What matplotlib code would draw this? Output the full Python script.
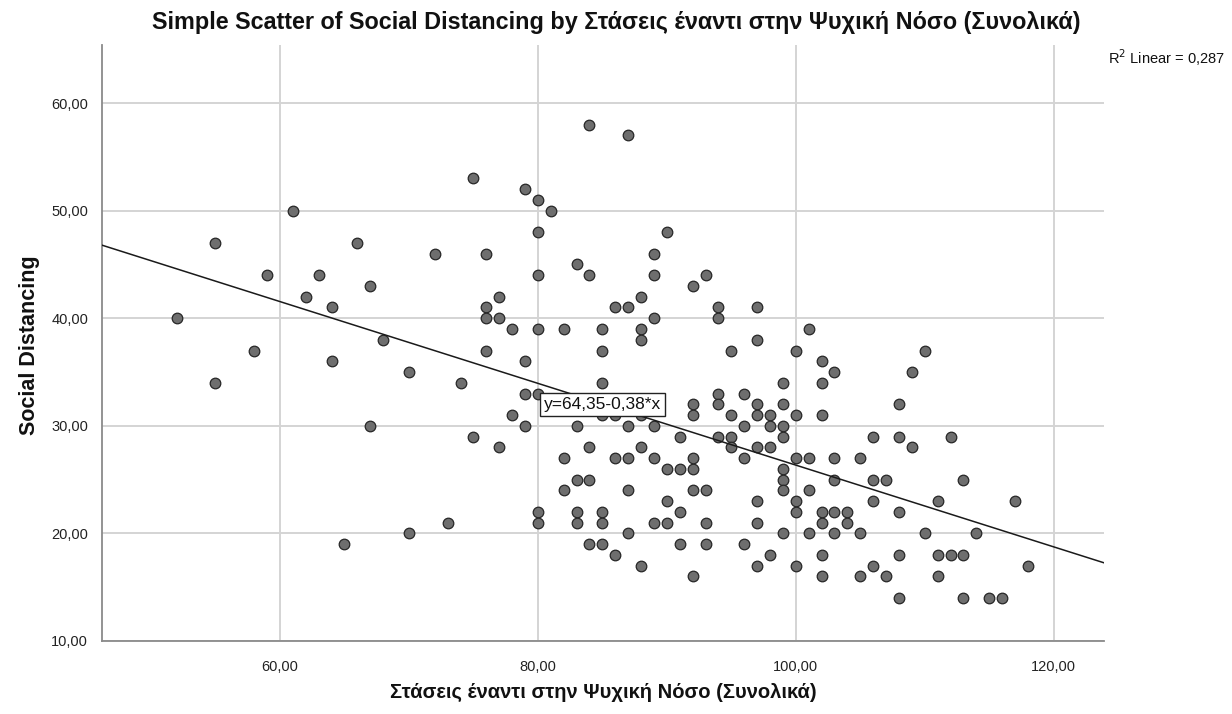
import matplotlib
matplotlib.use("Agg")
import matplotlib.pyplot as plt
import numpy as np

plt.rcParams['font.family'] = ['Liberation Sans', 'DejaVu Sans']

# Attitudes toward mental illness (total score)
attitude = [
    61, 55, 66, 72, 59, 63, 67, 62, 64, 52, 68, 58, 64, 70, 55, 67, 65, 70, 73,
    84, 87, 75, 79, 80, 81, 80, 90, 76, 89, 83, 84, 80, 89, 93, 92, 77, 88, 76,
    86, 87, 94, 97, 76, 77, 89, 94, 78, 80, 82, 85, 88, 88, 97, 76, 85, 95,
    79, 74, 85, 79, 80, 78, 79, 75, 77, 83, 85, 86, 88, 87, 89, 91, 92, 92,
    84, 88, 82, 86, 87, 89, 90, 91, 92, 92, 83, 84,
    82, 87, 92, 90, 80, 80, 83, 83, 85, 85, 91, 89, 90, 87, 84, 85, 91, 86,
    88, 92,
    100, 102, 103, 110, 109, 99, 102, 94, 94, 96, 97, 99, 108, 95, 97, 98, 100,
    102, 96, 98, 99, 94, 95, 99, 95, 97, 98, 96, 100, 101, 103, 105, 99, 99,
    103, 106, 107, 106, 108, 109, 112,
    101,
    99, 93, 101, 106, 111, 97, 100, 100, 102, 103, 104, 108, 93, 97, 102, 104,
    99, 101, 103, 105, 110, 93, 96, 98, 102, 108, 97, 100, 106, 102, 105, 107,
    108,
    113, 117, 114, 111, 112, 113, 118, 111, 113, 115, 116,
]

# Social distancing score
social = [
    50, 47, 47, 46, 44, 44, 43, 42, 41, 40, 38, 37, 36, 35, 34, 30, 19, 20, 21,
    58, 57, 53, 52, 51, 50, 48, 48, 46, 46, 45, 44, 44, 44, 44, 43, 42, 42, 41,
    41, 41, 41, 41, 40, 40, 40, 40, 39, 39, 39, 39, 39, 38, 38, 37, 37, 37,
    36, 34, 34, 33, 33, 31, 30, 29, 28, 30, 31, 31, 31, 30, 30, 29, 32, 31,
    28, 28, 27, 27, 27, 27, 26, 26, 26, 27, 25, 25,
    24, 24, 24, 23, 22, 21, 22, 21, 22, 21, 22, 21, 21, 20, 19, 19, 19, 18,
    17, 16,
    37, 36, 35, 37, 35, 34, 34, 33, 32, 33, 32, 32, 32, 31, 31, 31, 31,
    31, 30, 30, 30, 29, 29, 29, 28, 28, 28, 27, 27, 27, 27, 27, 26, 25,
    25, 25, 25, 29, 29, 28, 29,
    39,
    24, 24, 24, 23, 23, 23, 23, 22, 22, 22, 22, 22, 21, 21, 21, 21,
    20, 20, 20, 20, 20, 19, 19, 18, 18, 18, 17, 17, 17, 16, 16, 16,
    14,
    25, 23, 20, 18, 18, 18, 17, 16, 14, 14, 14,
]

x_ticks = [60, 80, 100, 120]
y_ticks = [10, 20, 30, 40, 50, 60]
intercept = 64.35
slope = -0.38
r_squared = 0.287

def comma(v, nd=2):
    return f"{v:.{nd}f}".replace(".", ",")

fig = plt.figure(figsize=(12.32, 7.14), dpi=100)
ax = fig.add_axes([102 / 1232, 73 / 714, 1002 / 1232, 596 / 714])

xlim = (46.2, 123.9)
ylim = (10, 65.4)
ax.set_xlim(*xlim)
ax.set_ylim(*ylim)

ax.set_xticks(x_ticks)
ax.set_yticks(y_ticks)
ax.set_xticklabels([comma(v) for v in x_ticks])
ax.set_yticklabels([comma(v) for v in y_ticks])
ax.tick_params(axis='both', length=0, labelsize=10.5, colors='#222222', pad=10)
ax.tick_params(axis='x', pad=14)

ax.grid(True, color='#d4d4d4', linewidth=1.4)
ax.set_axisbelow(True)
for side in ('top', 'right'):
    ax.spines[side].set_visible(False)
for side in ('left', 'bottom'):
    ax.spines[side].set_color('#8a8a8a')
    ax.spines[side].set_linewidth(1.3)

ax.scatter(attitude, social, s=58, facecolor='#6e6e6e', edgecolor='#262626',
           linewidth=0.9, zorder=3)

xs = np.array(xlim)
ax.plot(xs, intercept + slope * xs, color='#1a1a1a', linewidth=1.1, zorder=4)

eq_text = f"y={comma(intercept)}-{comma(abs(slope))}*x"
ax.text(85.0, 32.0, eq_text, ha='center', va='center', fontsize=12.5,
        color='#111111', zorder=5,
        bbox=dict(boxstyle='square,pad=0.22', facecolor='white',
                  edgecolor='#222222', linewidth=1.0))

fig.text(0.5, 0.969,
         "Simple Scatter of Social Distancing by Στάσεις έναντι στην Ψυχική Νόσο (Συνολικά)",
         ha='center', va='center', fontsize=16.8, fontweight='bold', color='#111111')
fig.text(1108 / 1232, 1 - 58 / 714, f"R$^2$ Linear = {comma(r_squared, 3)}",
         ha='left', va='center', fontsize=10.5, color='#111111')

fig.text(603 / 1232, 1 - 692 / 714, "Στάσεις έναντι στην Ψυχική Νόσο (Συνολικά)",
         ha='center', va='center', fontsize=14.5, fontweight='bold', color='#111111')
fig.text(30 / 1232, 1 - 345 / 714, "Social Distancing", rotation=90,
         ha='center', va='center', fontsize=15.5, fontweight='bold', color='#111111')

fig.savefig("out.png", dpi=100)
